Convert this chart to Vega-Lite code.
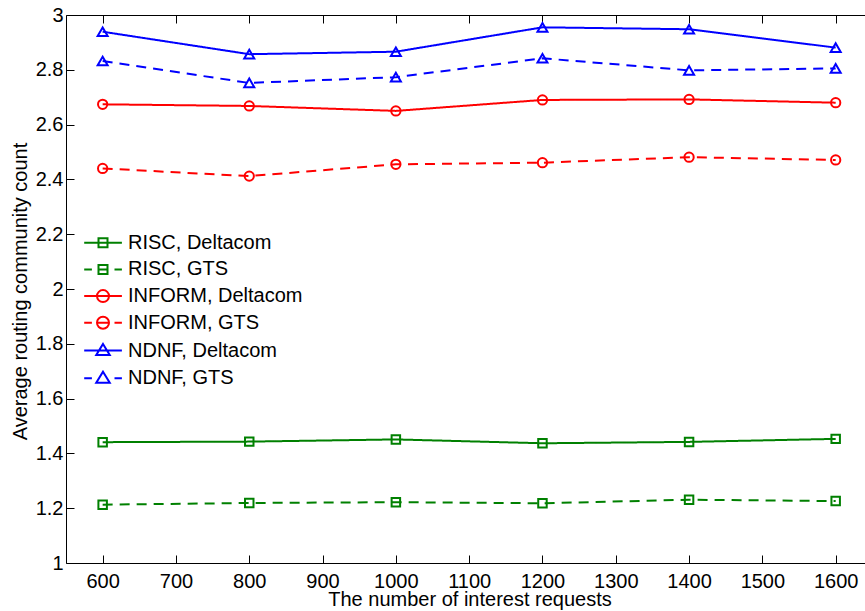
{
  "$schema": "https://vega.github.io/schema/vega-lite/v6.json",
  "width": 799,
  "height": 548,
  "autosize": {"type": "none"},
  "padding": {"left": 66, "top": 15, "right": 0, "bottom": 48},
  "background": "white",
  "config": {
    "view": {"stroke": null},
    "font": "Liberation Sans",
    "axis": {
      "domainColor": "#000000",
      "domainWidth": 1,
      "tickColor": "#000000",
      "tickWidth": 1,
      "labelColor": "#000000",
      "labelFont": "Liberation Sans",
      "labelFontSize": 20,
      "titleColor": "#000000",
      "titleFont": "Liberation Sans",
      "titleFontSize": 20,
      "titleFontWeight": "normal",
      "grid": false,
      "labelOverlap": false,
      "labelFlush": false
    },
    "legend": {
      "orient": "none",
      "legendX": 27,
      "legendY": 217.7,
      "title": null,
      "padding": 0,
      "symbolSize": 100,
      "symbolStrokeWidth": 2,
      "symbolOffset": 0,
      "labelFont": "Liberation Sans",
      "labelFontSize": 20,
      "labelColor": "#000000",
      "labelOffset": 15,
      "labelLimit": 400,
      "rowPadding": 6.7
    }
  },
  "data": {
    "values": [
      {"requests": 600, "scheme": "RISC", "topology": "Deltacom", "series": "RISC, Deltacom", "value": 1.441},
      {"requests": 800, "scheme": "RISC", "topology": "Deltacom", "series": "RISC, Deltacom", "value": 1.443},
      {"requests": 1000, "scheme": "RISC", "topology": "Deltacom", "series": "RISC, Deltacom", "value": 1.451},
      {"requests": 1200, "scheme": "RISC", "topology": "Deltacom", "series": "RISC, Deltacom", "value": 1.437},
      {"requests": 1400, "scheme": "RISC", "topology": "Deltacom", "series": "RISC, Deltacom", "value": 1.442},
      {"requests": 1600, "scheme": "RISC", "topology": "Deltacom", "series": "RISC, Deltacom", "value": 1.453},
      {"requests": 600, "scheme": "RISC", "topology": "GTS", "series": "RISC, GTS", "value": 1.213},
      {"requests": 800, "scheme": "RISC", "topology": "GTS", "series": "RISC, GTS", "value": 1.219},
      {"requests": 1000, "scheme": "RISC", "topology": "GTS", "series": "RISC, GTS", "value": 1.222},
      {"requests": 1200, "scheme": "RISC", "topology": "GTS", "series": "RISC, GTS", "value": 1.218},
      {"requests": 1400, "scheme": "RISC", "topology": "GTS", "series": "RISC, GTS", "value": 1.231},
      {"requests": 1600, "scheme": "RISC", "topology": "GTS", "series": "RISC, GTS", "value": 1.226},
      {"requests": 600, "scheme": "INFORM", "topology": "Deltacom", "series": "INFORM, Deltacom", "value": 2.674},
      {"requests": 800, "scheme": "INFORM", "topology": "Deltacom", "series": "INFORM, Deltacom", "value": 2.668},
      {"requests": 1000, "scheme": "INFORM", "topology": "Deltacom", "series": "INFORM, Deltacom", "value": 2.65},
      {"requests": 1200, "scheme": "INFORM", "topology": "Deltacom", "series": "INFORM, Deltacom", "value": 2.69},
      {"requests": 1400, "scheme": "INFORM", "topology": "Deltacom", "series": "INFORM, Deltacom", "value": 2.692},
      {"requests": 1600, "scheme": "INFORM", "topology": "Deltacom", "series": "INFORM, Deltacom", "value": 2.68},
      {"requests": 600, "scheme": "INFORM", "topology": "GTS", "series": "INFORM, GTS", "value": 2.44},
      {"requests": 800, "scheme": "INFORM", "topology": "GTS", "series": "INFORM, GTS", "value": 2.412},
      {"requests": 1000, "scheme": "INFORM", "topology": "GTS", "series": "INFORM, GTS", "value": 2.455},
      {"requests": 1200, "scheme": "INFORM", "topology": "GTS", "series": "INFORM, GTS", "value": 2.461},
      {"requests": 1400, "scheme": "INFORM", "topology": "GTS", "series": "INFORM, GTS", "value": 2.481},
      {"requests": 1600, "scheme": "INFORM", "topology": "GTS", "series": "INFORM, GTS", "value": 2.471},
      {"requests": 600, "scheme": "NDNF", "topology": "Deltacom", "series": "NDNF, Deltacom", "value": 2.939},
      {"requests": 800, "scheme": "NDNF", "topology": "Deltacom", "series": "NDNF, Deltacom", "value": 2.857},
      {"requests": 1000, "scheme": "NDNF", "topology": "Deltacom", "series": "NDNF, Deltacom", "value": 2.866},
      {"requests": 1200, "scheme": "NDNF", "topology": "Deltacom", "series": "NDNF, Deltacom", "value": 2.955},
      {"requests": 1400, "scheme": "NDNF", "topology": "Deltacom", "series": "NDNF, Deltacom", "value": 2.948},
      {"requests": 1600, "scheme": "NDNF", "topology": "Deltacom", "series": "NDNF, Deltacom", "value": 2.881},
      {"requests": 600, "scheme": "NDNF", "topology": "GTS", "series": "NDNF, GTS", "value": 2.832},
      {"requests": 800, "scheme": "NDNF", "topology": "GTS", "series": "NDNF, GTS", "value": 2.752},
      {"requests": 1000, "scheme": "NDNF", "topology": "GTS", "series": "NDNF, GTS", "value": 2.773},
      {"requests": 1200, "scheme": "NDNF", "topology": "GTS", "series": "NDNF, GTS", "value": 2.842},
      {"requests": 1400, "scheme": "NDNF", "topology": "GTS", "series": "NDNF, GTS", "value": 2.798},
      {"requests": 1600, "scheme": "NDNF", "topology": "GTS", "series": "NDNF, GTS", "value": 2.805}
    ]
  },
  "resolve": {"scale": {"shape": "independent", "color": "independent"}},
  "encoding": {
    "x": {
      "field": "requests",
      "type": "quantitative",
      "scale": {"domain": [550, 1640], "nice": false, "zero": false},
      "axis": {
        "orient": "bottom",
        "values": [600, 700, 800, 900, 1000, 1100, 1200, 1300, 1400, 1500, 1600],
        "format": "d",
        "tickSize": -8,
        "labelPadding": 16,
        "title": "The number of interest requests",
        "titleX": 403.5,
        "titleY": 42,
        "titleAlign": "center",
        "titleBaseline": "alphabetic",
        "titleAnchor": null
      }
    },
    "y": {
      "field": "value",
      "type": "quantitative",
      "scale": {"domain": [1, 3], "nice": false, "zero": false},
      "axis": {
        "orient": "left",
        "values": [1, 1.2, 1.4, 1.6, 1.8, 2, 2.2, 2.4, 2.6, 2.8, 3],
        "format": ".1~f",
        "tickSize": -8,
        "labelPadding": 11,
        "title": "Average routing community count",
        "titleX": -39.3,
        "titleY": 276,
        "titleAngle": -90,
        "titleAlign": "center",
        "titleBaseline": "alphabetic",
        "titleAnchor": null
      }
    }
  },
  "layer": [
    {
      "encoding": {
        "color": {
          "field": "series",
          "type": "nominal",
          "scale": {
            "domain": ["RISC, Deltacom", "RISC, GTS", "INFORM, Deltacom", "INFORM, GTS", "NDNF, Deltacom", "NDNF, GTS"],
            "range": ["#008000", "#008000", "#ff0000", "#ff0000", "#0000ff", "#0000ff"]
          },
          "legend": null
        }
      },
      "layer": [
        {
          "mark": {"type": "line", "strokeWidth": 2},
          "encoding": {
            "strokeDash": {
              "field": "topology",
              "type": "nominal",
              "scale": {"domain": ["Deltacom", "GTS"], "range": [[1, 0], [10, 7]]},
              "legend": null
            }
          }
        },
        {
          "mark": {"type": "point", "filled": false, "strokeWidth": 2, "opacity": 1},
          "encoding": {
            "shape": {
              "field": "scheme",
              "type": "nominal",
              "scale": {"domain": ["RISC", "INFORM", "NDNF"], "range": ["square", "circle", "triangle-up"]},
              "legend": null
            },
            "size": {
              "field": "scheme",
              "type": "nominal",
              "scale": {"domain": ["RISC", "INFORM", "NDNF"], "range": [72, 100, 165]},
              "legend": null
            }
          }
        }
      ]
    },
    {
      "mark": {"type": "point", "filled": false, "size": 0, "strokeWidth": 2, "opacity": 1},
      "encoding": {
        "x": {
          "field": "requests",
          "type": "quantitative",
          "scale": {"domain": [550, 1640], "nice": false, "zero": false},
          "axis": {
            "orient": "top",
            "values": [600, 700, 800, 900, 1000, 1100, 1200, 1300, 1400, 1500, 1600],
            "labels": false,
            "tickSize": -8,
            "title": null
          }
        },
        "color": {
          "field": "series",
          "type": "nominal",
          "scale": {
            "domain": ["RISC, Deltacom", "RISC, GTS", "INFORM, Deltacom", "INFORM, GTS", "NDNF, Deltacom", "NDNF, GTS"],
            "range": ["#008000", "#008000", "#ff0000", "#ff0000", "#0000ff", "#0000ff"]
          },
          "legend": {}
        },
        "shape": {
          "field": "series",
          "type": "nominal",
          "scale": {
            "domain": ["RISC, Deltacom", "RISC, GTS", "INFORM, Deltacom", "INFORM, GTS", "NDNF, Deltacom", "NDNF, GTS"],
            "range": [
              "M-3.76,0H3.78M-0.9,-0.9H0.9V0.9H-0.9Z",
              "M-3.76,0H-2.22M2.3,0H3.78M-0.9,0H0.9M-0.9,-0.9H0.9V0.9H-0.9Z",
              "M-3.76,0H3.78M1.2,0A1.2,1.2,0,1,1,-1.2,0A1.2,1.2,0,1,1,1.2,0Z",
              "M-3.76,0H-2.22M2.3,0H3.78M-1.2,0H1.2M1.2,0A1.2,1.2,0,1,1,-1.2,0A1.2,1.2,0,1,1,1.2,0Z",
              "M-3.76,0H3.78M0,-1.3L1.35,0.9L-1.35,0.9Z",
              "M-3.76,0H-2.22M2.3,0H3.78M0,-1.3L1.35,0.9L-1.35,0.9Z"
            ]
          },
          "legend": {}
        }
      }
    }
  ]
}
